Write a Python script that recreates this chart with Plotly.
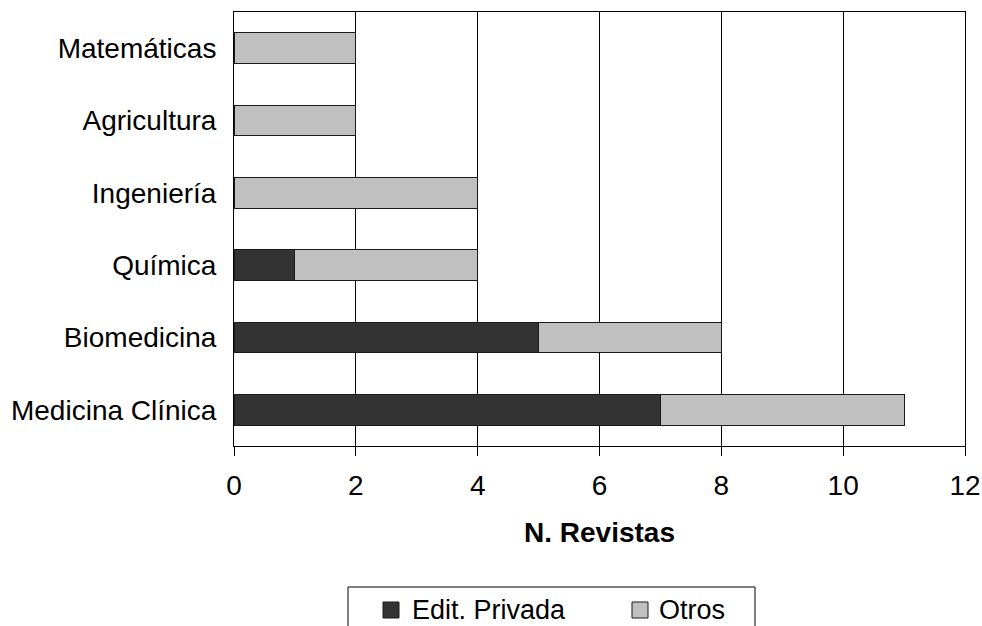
import plotly.graph_objects as go

categories = ["Medicina Clínica", "Biomedicina", "Química", "Ingeniería", "Agricultura", "Matemáticas"]
edit_privada = [7, 5, 1, 0, 0, 0]
otros = [4, 3, 3, 4, 2, 2]
x_ticks = [0, 2, 4, 6, 8, 10, 12]
series_names = ["Edit. Privada", "Otros"]
series_colors = ["#333333", "#c0c0c0"]

font_family = "Liberation Sans, Arial, sans-serif"

W, H = 982, 626
ML, MR, MT, MB = 234, 17, 12, 180
PW, PH = W - ML - MR, H - MT - MB


def px_x(p):
    return (p - ML) / PW


def px_y(p):
    return (H - MB - p) / PH


fig = go.Figure()
for name, vals, col in zip(series_names, [edit_privada, otros], series_colors):
    fig.add_trace(go.Bar(
        y=categories, x=vals, orientation="h", name=name,
        marker=dict(color=col, line=dict(color="#1a1a1a", width=1)),
    ))

# legend drawn as a framed box below the chart
shapes = [dict(type="rect", xref="paper", yref="paper",
               x0=px_x(348), x1=px_x(755), y0=px_y(587), y1=px_y(645),
               line=dict(color="black", width=1), fillcolor="white", layer="above")]
annotations = []
for (sq_left, txt_left), name, col in zip([(383, 410), (632, 657)], series_names, series_colors):
    shapes.append(dict(type="rect", xref="paper", yref="paper",
                       x0=px_x(sq_left), x1=px_x(sq_left + 16), y0=px_y(602), y1=px_y(618),
                       line=dict(color="#1a1a1a", width=1), fillcolor=col, layer="above"))
    annotations.append(dict(text=name, xref="paper", yref="paper", x=px_x(txt_left), y=px_y(610),
                            xanchor="left", yanchor="middle", showarrow=False,
                            font=dict(size=27, color="black")))

fig.update_layout(
    barmode="stack",
    bargap=0.58,
    width=W, height=H,
    margin=dict(l=ML, r=MR, t=MT, b=MB),
    plot_bgcolor="white", paper_bgcolor="white",
    font=dict(family=font_family, size=28, color="black"),
    showlegend=False,
    shapes=shapes,
    annotations=annotations,
    xaxis=dict(
        range=[0, 12], tickvals=x_ticks, showgrid=True, gridcolor="black", gridwidth=1,
        showline=True, linecolor="black", linewidth=1, mirror=True,
        ticks="outside", ticklen=9, tickcolor="black", automargin=False,
        ticklabelstandoff=5,
        title=dict(text="<b>N. Revistas</b>", font=dict(size=28), standoff=22),
        zeroline=False,
    ),
    yaxis=dict(
        showline=True, linecolor="black", linewidth=1, mirror=True, automargin=False,
        showgrid=False, ticks="", ticklabelstandoff=11,
        categoryorder="array", categoryarray=categories,
    ),
)

fig.write_html("out.html", config={"displayModeBar": False},
               post_script="document.body.style.margin='0px';")
